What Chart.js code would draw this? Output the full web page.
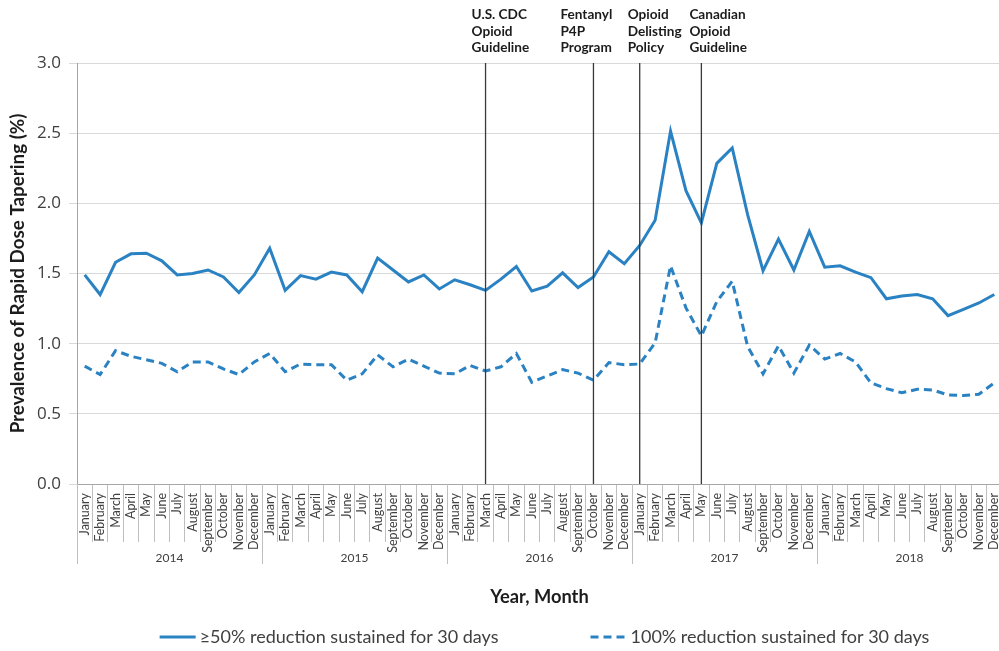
<!DOCTYPE html>
<html>
<head>
<meta charset="utf-8">
<script src="https://cdn.jsdelivr.net/npm/chart.js@4.4.1/dist/chart.umd.min.js"></script>
<style>
  html, body { margin: 0; padding: 0; background: #ffffff; }
  #wrap { width: 999px; height: 651px; position: relative; }
</style>
</head>
<body>
<div id="wrap"><canvas id="chart" width="999" height="651"></canvas></div>
<script>
// ---- data ----
const years = ['2014', '2015', '2016', '2017', '2018'];
const monthNames = ['January', 'February', 'March', 'April', 'May', 'June', 'July',
  'August', 'September', 'October', 'November', 'December'];

// Monthly prevalence (%) of rapid dose tapering, Jan 2014 – Dec 2018
const reduction50 = [
  1.49, 1.35, 1.58, 1.64, 1.645, 1.59, 1.49, 1.50, 1.525, 1.475, 1.365, 1.49,
  1.68, 1.38, 1.485, 1.46, 1.51, 1.49, 1.37, 1.61, 1.525, 1.44, 1.49, 1.39,
  1.455, 1.42, 1.38, 1.46, 1.55, 1.375, 1.41, 1.505, 1.40, 1.475, 1.655, 1.57,
  1.70, 1.88, 2.515, 2.09, 1.86, 2.285, 2.395, 1.92, 1.52, 1.745, 1.525, 1.80,
  1.545, 1.555, 1.51, 1.47, 1.32, 1.34, 1.35, 1.32, 1.20, 1.245, 1.29, 1.35
];
const reduction100 = [
  0.84, 0.78, 0.95, 0.91, 0.885, 0.86, 0.80, 0.87, 0.87, 0.82, 0.78, 0.87,
  0.93, 0.80, 0.855, 0.85, 0.85, 0.74, 0.785, 0.92, 0.835, 0.89, 0.84, 0.79,
  0.785, 0.845, 0.805, 0.835, 0.93, 0.725, 0.77, 0.815, 0.79, 0.74, 0.865, 0.85,
  0.855, 1.005, 1.555, 1.255, 1.055, 1.30, 1.445, 0.98, 0.785, 0.985, 0.79, 0.99,
  0.89, 0.93, 0.87, 0.72, 0.68, 0.65, 0.675, 0.67, 0.635, 0.63, 0.64, 0.72
];

const seriesNames = ['\u226550% reduction sustained for 30 days', '100% reduction sustained for 30 days'];

// Policy events marked with vertical lines
const eventLabels = [
  ['U.S. CDC', 'Opioid', 'Guideline'],
  ['Fentanyl', 'P4P', 'Program'],
  ['Opioid', 'Delisting', 'Policy'],
  ['Canadian', 'Opioid', 'Guideline']
];
const eventYears = ['2016', '2016', '2017', '2017'];
const eventMonths = ['March', 'October', 'January', 'May'];

const yTicks = [0, 0.5, 1.0, 1.5, 2.0, 2.5, 3.0];

// ---- derived category list ----
const categories = [];
years.forEach(() => monthNames.forEach(m => categories.push(m)));
const eventIndex = eventYears.map((y, i) => years.indexOf(y) * 12 + monthNames.indexOf(eventMonths[i]));

// ---- layout / style ----
const BLUE = '#2a82c3';
const TEXT = '#404040';
const DARK = '#1c1c1c';
const eventTextShift = [-14, -33, -12, -12];
const RIGHT_BLEED = 3; // plot runs a few pixels past the canvas edge

const decorPlugin = {
  id: 'decor',
  afterLayout(chart) {
    const xs = chart.scales.x;
    chart.chartArea.right += RIGHT_BLEED;
    chart.chartArea.width += RIGHT_BLEED;
    xs.right += RIGHT_BLEED;
    xs.width += RIGHT_BLEED;
    xs.configure();
  },
  afterDraw(chart) {
    const ctx = chart.ctx;
    const xs = chart.scales.x;
    const area = chart.chartArea;
    const band = xs.getPixelForValue(1) - xs.getPixelForValue(0);
    ctx.save();

    // year group separators and labels
    ctx.strokeStyle = '#bfbfbf';
    ctx.lineWidth = 1;
    for (let i = 0; i <= years.length; i++) {
      const px = Math.round(xs.getPixelForValue(i * 12) - band / 2) + 0.5;
      ctx.beginPath();
      ctx.moveTo(px, area.bottom);
      ctx.lineTo(px, area.bottom + 80);
      ctx.stroke();
    }
    ctx.fillStyle = TEXT;
    ctx.font = '12px Lato';
    ctx.textAlign = 'center';
    ctx.textBaseline = 'middle';
    years.forEach((y, i) => {
      const cx = (xs.getPixelForValue(i * 12) + xs.getPixelForValue(i * 12 + 11)) / 2;
      ctx.fillText(y, cx, area.bottom + 74);
    });

    // event lines and labels
    ctx.strokeStyle = '#3a3a3a';
    ctx.lineWidth = 1.3;
    eventIndex.forEach((idx, i) => {
      const px = xs.getPixelForValue(idx);
      ctx.beginPath();
      ctx.moveTo(px, area.top);
      ctx.lineTo(px, area.bottom);
      ctx.stroke();
      ctx.fillStyle = DARK;
      ctx.font = 'bold 13.6px Lato';
      ctx.textAlign = 'left';
      ctx.textBaseline = 'alphabetic';
      eventLabels[i].forEach((line, j) => {
        ctx.fillText(line, px + eventTextShift[i], 19 + j * 16.5);
      });
    });

    // x axis title
    ctx.fillStyle = DARK;
    ctx.font = 'bold 18.3px Lato';
    ctx.textAlign = 'center';
    ctx.textBaseline = 'alphabetic';
    ctx.fillText('Year, Month', (area.left + area.right) / 2, 603);

    // legend
    ctx.font = '18px Lato';
    ctx.textBaseline = 'middle';
    ctx.textAlign = 'left';
    const sampleW = 36, gapText = 4, gapItem = 92;
    const widths = seriesNames.map(s => ctx.measureText(s).width);
    const total = widths.reduce((a, b) => a + b, 0) + 2 * (sampleW + gapText) + gapItem;
    let lx = (area.left + area.right) / 2 + 5 - total / 2;
    const ly = 637;
    chart.data.datasets.forEach((ds, i) => {
      ctx.strokeStyle = ds.borderColor;
      ctx.lineWidth = ds.borderWidth;
      ctx.setLineDash(ds.borderDash || []);
      ctx.beginPath();
      ctx.moveTo(lx, ly);
      ctx.lineTo(lx + sampleW, ly);
      ctx.stroke();
      ctx.setLineDash([]);
      ctx.fillStyle = TEXT;
      ctx.fillText(seriesNames[i], lx + sampleW + gapText, ly);
      lx += sampleW + gapText + widths[i] + gapItem;
    });
    ctx.restore();
  }
};

new Chart(document.getElementById('chart'), {
  type: 'line',
  data: {
    labels: categories,
    datasets: [
      { label: seriesNames[0], data: reduction50, borderColor: BLUE, borderWidth: 3,
        pointRadius: 0, tension: 0, fill: false },
      { label: seriesNames[1], data: reduction100, borderColor: BLUE, borderWidth: 3,
        borderDash: [8, 5], pointRadius: 0, tension: 0, fill: false }
    ]
  },
  options: {
    responsive: false,
    animation: false,
    devicePixelRatio: 1,
    layout: { padding: { top: 63, left: 0, right: 0, bottom: 0 } },
    plugins: { legend: { display: false }, tooltip: { enabled: false } },
    scales: {
      x: {
        type: 'category',
        offset: true,
        afterFit(scale) { scale.height = 167; },
        grid: { offset: true, drawOnChartArea: false, drawTicks: true, tickLength: 58,
                color: '#bfbfbf', lineWidth: 1 },
        border: { color: '#a6a6a6', width: 1 },
        ticks: { autoSkip: false, minRotation: 90, maxRotation: 90, padding: -49,
                 color: TEXT, font: { family: 'Lato', size: 12.5 } }
      },
      y: {
        min: 0, max: 3,
        afterFit(scale) { scale.width = 77; },
        afterBuildTicks(scale) { scale.ticks = yTicks.map(v => ({ value: v })); },
        grid: { color: '#d9d9d9', lineWidth: 1, tickLength: 8 },
        border: { color: '#a6a6a6', width: 1 },
        ticks: { padding: 8, color: TEXT, font: { family: 'Open Sans', size: 17 },
                 callback: v => Number(v).toFixed(1) },
        title: { display: true, text: 'Prevalence of Rapid Dose Tapering (%)',
                 color: DARK, font: { family: 'Lato', size: 18.8, weight: 'bold' },
                 padding: { top: 7, bottom: 0 } }
      }
    }
  },
  plugins: [decorPlugin]
});
</script>
</body>
</html>
